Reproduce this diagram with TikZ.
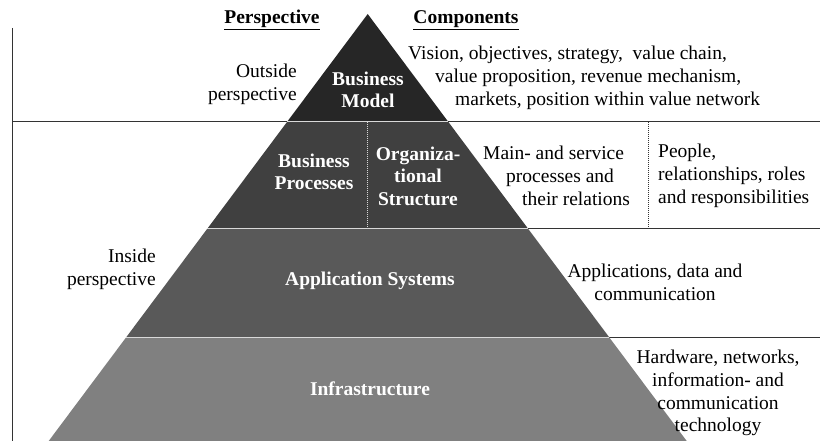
\documentclass[tikz,border=0pt]{standalone}
\usepackage{fontspec}
\setmainfont{Liberation Serif}
\begin{document}
\begin{tikzpicture}[x=1pt,y=-1pt,
  txt/.style={font=\fontsize{19.5}{22.8}\selectfont,inner sep=0pt},
  lbl/.style={font=\fontsize{19.5}{22.5}\selectfont\bfseries,inner sep=0pt,text=white,align=center},
  rule/.style={draw=black!80,line width=1pt},
  sep/.style={draw=black!15,line width=1pt},
  dotline/.style={line width=0.8pt,dash pattern=on 1pt off 1pt}]
\useasboundingbox (0,0) rectangle (820,441);
\coordinate (apex) at (367.7,14);
\coordinate (l1) at (287.0,122);
\coordinate (r1) at (448.4,122);
\coordinate (l2) at (207.1,229);
\coordinate (r2) at (528.3,229);
\coordinate (l3) at (126.4,337);
\coordinate (r3) at (609.0,337);
\coordinate (l4) at (48.7,441);
\coordinate (r4) at (686.7,441);
\coordinate (ltop) at (12.5,28);
\coordinate (lbot) at (12.5,441);
\coordinate (lmid) at (12.5,122);
\coordinate (e1) at (820,122);
\coordinate (e2) at (820,229);
\coordinate (e3) at (820,337);
\coordinate (m1) at (367.5,122);
\coordinate (m2) at (367.5,229);
\coordinate (d1) at (648.5,122);
\coordinate (d2) at (648.5,229);
\draw[rule] (ltop) -- (lbot);
\draw[rule] (lmid) -- (e1);
\draw[rule] (r2) -- (e2);
\draw[rule] (r3) -- (e3);
\fill[black!85] (apex) -- (r1) -- (l1) -- cycle;
\fill[black!75] (l1) -- (r1) -- (r2) -- (l2) -- cycle;
\fill[black!65] (l2) -- (r2) -- (r3) -- (l3) -- cycle;
\fill[black!50] (l3) -- (r3) -- (r4) -- (l4) -- cycle;
\draw[sep] (l1) -- (r1);
\draw[sep] (l2) -- (r2);
\draw[sep] (l3) -- (r3);
\draw[sep,dotline] (m1) -- (m2);
\draw[black!80,dotline] (d1) -- (d2);
\node[txt,font=\fontsize{19.5}{22.5}\selectfont\bfseries] (persp) at (272,20) {\underline{Perspective}};
\node[txt,font=\fontsize{19.5}{22.5}\selectfont\bfseries] (comp) at (466,20) {\underline{Components}};
\node[txt,align=right,anchor=east] (outside) at (297,84) {Outside\\perspective};
\node[lbl] (bm) at (368,90) {Business\\Model};
\node[txt,align=left,anchor=west] (bmtext) at (408,78) {Vision, objectives, strategy,\ \ value chain,\\\hspace*{27pt}value proposition, revenue mechanism,\\\hspace*{47pt}markets, position within value network};
\node[lbl] (bp) at (314,172) {Business\\Processes};
\node[lbl] (os) at (418,176) {Organiza-\\tional\\Structure};
\node[txt,align=left,anchor=west] (bptext) at (483,176) {Main- and service\\\hspace*{23pt}processes and\\\hspace*{39pt}their relations};
\node[txt,align=left,anchor=west] (ostext) at (658,176) {People,\\relationships, roles\\and responsibilities};
\node[txt,align=right,anchor=east] (inside) at (156,269) {Inside\\perspective};
\node[lbl] (as) at (370,281) {Application Systems};
\node[txt,align=center] (astext) at (655,282) {Applications, data and\\communication};
\node[lbl] (inf) at (370,389) {Infrastructure};
\node[txt,align=center] (inftext) at (718,393) {Hardware, networks,\\information- and\\communication\\technology};
\end{tikzpicture}
\end{document}
